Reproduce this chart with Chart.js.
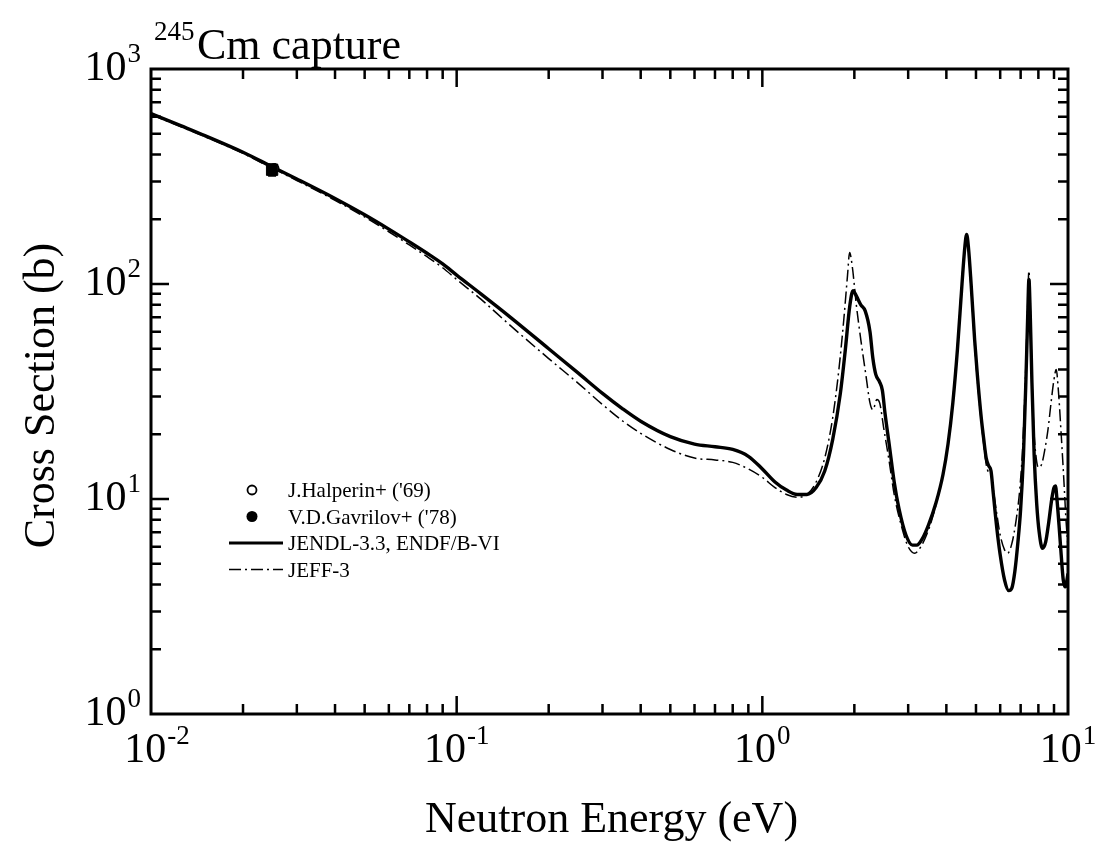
<!DOCTYPE html>
<html><head><meta charset="utf-8">
<script src="https://cdn.jsdelivr.net/npm/chart.js@4.4.0/dist/chart.umd.min.js"></script>
<style>html,body{margin:0;padding:0;background:#fff}canvas{display:block}</style>
</head><body>
<canvas id="c" width="1108" height="844" style="width:1108px;height:844px"></canvas>
<script>
// ---- data (eV, barns) ----
const energyJENDL = [0.01,0.0125,0.015,0.02,0.025,0.03,0.04,0.05,0.06,0.07,0.08,0.09,0.1,0.12,0.15,0.2,0.25,0.3,0.35,0.4,0.5,0.6,0.7,0.8,0.9,1.0,1.1,1.2,1.3,1.4,1.5,1.6,1.7,1.8,1.87,1.93,1.98,2.03,2.1,2.17,2.25,2.3,2.35,2.42,2.47,2.52,2.6,2.7,2.8,2.95,3.1,3.2,3.35,3.5,3.7,3.9,4.05,4.2,4.35,4.5,4.6,4.66,4.72,4.82,4.95,5.05,5.2,5.3,5.4,5.5,5.6,5.7,5.85,6.0,6.2,6.4,6.55,6.7,6.85,7.0,7.15,7.28,7.38,7.45,7.52,7.62,7.75,7.9,8.05,8.25,8.45,8.65,8.85,9.0,9.1,9.2,9.35,9.5,9.65,9.8,10];
const xsJENDL = [620,545,490,410,350,308,250,210,180,157,139,124,110,90,70,50,38.5,31,26.2,23,19.5,18,17.5,17,15.8,13.8,12,11,10.5,10.5,11.3,13.5,19,31,50,78,93,88,80,75,60,45,38,35,32,25,18,12,9,6.8,6.1,6.1,6.6,7.6,9.6,13,18,28,50,100,150,170,150,100,55,38,24,19,15.5,14.3,13.5,10.5,7.3,5.5,4.2,3.75,3.85,4.6,6.2,9,16,35,70,105,75,35,16,9.5,7,5.9,6.3,7.8,10,11.3,11.5,10,7.5,5.5,4.2,3.9,4.5];
const energyJEFF = [0.01,0.015,0.02,0.025,0.03,0.04,0.05,0.06,0.07,0.08,0.09,0.1,0.12,0.15,0.2,0.25,0.3,0.35,0.4,0.5,0.6,0.7,0.8,0.9,1.0,1.1,1.2,1.3,1.4,1.5,1.6,1.7,1.78,1.85,1.9,1.93,1.97,2.03,2.1,2.18,2.25,2.3,2.37,2.42,2.5,2.6,2.7,2.85,3.0,3.15,3.3,3.5,3.7,3.9,4.05,4.2,4.35,4.5,4.6,4.66,4.72,4.82,4.95,5.05,5.2,5.3,5.4,5.5,5.6,5.7,5.85,6.0,6.2,6.35,6.55,6.75,6.95,7.1,7.25,7.37,7.45,7.53,7.62,7.72,7.85,8.0,8.2,8.4,8.6,8.8,9.0,9.15,9.3,9.5,9.7,9.85,10];
const xsJEFF = [615,485,405,345,303,245,205,175,152,134,119,105,85,64,45,34.5,27.5,23,20.2,17,15.5,15.2,14.8,13.8,12.6,11.3,10.5,10.2,10.5,12,15.5,24,40,70,110,140,120,80,55,38,28,26,29,28,21,15,10.5,7.5,6.0,5.6,6.0,7.2,9.4,13,18,29,52,105,150,165,145,95,52,36,23,18,14.5,13.3,13,11,8.5,6.8,5.8,5.6,6.2,7.8,11,17,35,75,115,75,38,22,16,14,14.5,17,21,28,36,40,32,20,12,8,6];
const energyHalperin = [0.0253];
const xsHalperin = [345];
const energyGavrilov = [0.0249];
const xsGavrilov = [340];
const errGavrilov = [20];
const xTickExponents = [-2,-1,0,1];
const yTickExponents = [0,1,2,3];
const legendLabels = ["J.Halperin+ ('69)","V.D.Gavrilov+ ('78)","JENDL-3.3, ENDF/B-VI","JEFF-3"];

const pts = (xs, ys) => xs.map((x,i)=>({x:x, y:ys[i]}));
const SERIF = '"Liberation Serif","Times New Roman",serif';

const decorPlugin = {
  id:'decor',
  afterDatasetsDraw(chart){
    const {ctx, chartArea:a, scales:{x, y}} = chart;
    ctx.save();
    // error bar for Gavrilov
    ctx.strokeStyle='#000'; ctx.lineWidth=2.5;
    energyGavrilov.forEach((e,i)=>{
      const px=x.getPixelForValue(e);
      const p1=y.getPixelForValue(xsGavrilov[i]+errGavrilov[i]);
      const p2=y.getPixelForValue(xsGavrilov[i]-errGavrilov[i]);
      ctx.beginPath(); ctx.moveTo(px,p1); ctx.lineTo(px,p2);
      ctx.moveTo(px-4,p1); ctx.lineTo(px+4,p1);
      ctx.moveTo(px-4,p2); ctx.lineTo(px+4,p2); ctx.stroke();
    });
    // ticks
    ctx.lineWidth=2.5;
    ctx.beginPath();
    for(let d=-2; d<1; d++){
      for(let m=1;m<=9;m++){
        const v=m*Math.pow(10,d);
        if(d===-2 && m===1) continue;
        const px=x.getPixelForValue(v);
        const len = m===1?18:10;
        ctx.moveTo(px,a.bottom); ctx.lineTo(px,a.bottom-len);
        ctx.moveTo(px,a.top); ctx.lineTo(px,a.top+len);
      }
    }
    for(let d=0; d<3; d++){
      for(let m=1;m<=9;m++){
        const v=m*Math.pow(10,d);
        if(d===0 && m===1) continue;
        const py=y.getPixelForValue(v);
        const len = m===1?18:10;
        ctx.moveTo(a.left,py); ctx.lineTo(a.left+len,py);
        ctx.moveTo(a.right,py); ctx.lineTo(a.right-len,py);
      }
    }
    ctx.stroke();
    // frame
    ctx.lineWidth=3;
    ctx.strokeRect(a.left,a.top,a.right-a.left,a.bottom-a.top);

    ctx.fillStyle='#000';
    const powLabel=(exp, cx, baseY, align)=>{
      ctx.font='42px '+SERIF;
      const w1=ctx.measureText('10').width;
      ctx.font='27px '+SERIF;
      const sup=String(exp);
      const w2=ctx.measureText(sup).width;
      const total=w1+w2+1;
      let left = align==='center' ? cx-total/2 : cx-total;
      ctx.textAlign='left'; ctx.textBaseline='alphabetic';
      ctx.font='42px '+SERIF; ctx.fillText('10',left,baseY);
      ctx.font='27px '+SERIF; ctx.fillText(sup,left+w1+1,baseY-18);
    };
    xTickExponents.forEach(e=>{
      powLabel(e, x.getPixelForValue(Math.pow(10,e)) + (e===-2?6:0), a.bottom+48, 'center');
    });
    yTickExponents.forEach(e=>{
      powLabel(e, a.left-10, y.getPixelForValue(Math.pow(10,e))+11, 'right');
    });
    // axis titles
    ctx.font='44px '+SERIF; ctx.textAlign='center';
    ctx.fillText('Neutron Energy (eV)', (a.left+a.right)/2 + 2, 832);
    ctx.save();
    ctx.translate(54, (a.top+a.bottom)/2 + 4);
    ctx.rotate(-Math.PI/2);
    ctx.fillText('Cross Section (b)',0,0);
    ctx.restore();
    // title
    ctx.textAlign='left';
    ctx.font='27px '+SERIF; ctx.fillText('245',154,40);
    ctx.font='44px '+SERIF; ctx.fillText('Cm capture',197,59);
    // legend
    ctx.font='21px '+SERIF;
    const lx=288, ly0=497, dy=26.5;
    legendLabels.forEach((t,i)=>{ ctx.fillText(t,lx,ly0+i*dy); });
    ctx.lineWidth=1.8;
    ctx.beginPath(); ctx.arc(252,490,4.5,0,Math.PI*2); ctx.stroke();
    ctx.beginPath(); ctx.arc(252,490+dy,5.5,0,Math.PI*2); ctx.fill();
    ctx.lineWidth=3; ctx.setLineDash([]);
    ctx.beginPath(); ctx.moveTo(229,490+2*dy); ctx.lineTo(283,490+2*dy); ctx.stroke();
    ctx.lineWidth=1.5; ctx.setLineDash([12,4,2,4]);
    ctx.beginPath(); ctx.moveTo(229,490+3*dy); ctx.lineTo(283,490+3*dy); ctx.stroke();
    ctx.restore();
  }
};

new Chart(document.getElementById('c'), {
  type:'scatter',
  data:{datasets:[
    {label:legendLabels[3], order:4, data:pts(energyJEFF,xsJEFF), showLine:true, borderColor:'#000', borderWidth:1.5, borderDash:[12,4,2,4], pointRadius:0, cubicInterpolationMode:'monotone', fill:false},
    {label:legendLabels[2], order:3, data:pts(energyJENDL,xsJENDL), showLine:true, borderColor:'#000', borderWidth:3.4, pointRadius:0, cubicInterpolationMode:'monotone', fill:false},
    {label:legendLabels[0], order:2, data:pts(energyHalperin,xsHalperin), showLine:false, pointRadius:4.5, pointBackgroundColor:'#fff', pointBorderColor:'#000', pointBorderWidth:1.5},
    {label:legendLabels[1], order:1, data:pts(energyGavrilov,xsGavrilov), showLine:false, pointRadius:8, pointStyle:'rect', pointBackgroundColor:'#000', pointBorderColor:'#000'}
  ]},
  options:{
    responsive:false, animation:false, devicePixelRatio:1,
    layout:{padding:{left:151,right:40,top:69,bottom:130}},
    plugins:{legend:{display:false}, tooltip:{enabled:false}},
    scales:{
      x:{type:'logarithmic', min:0.01, max:10, ticks:{display:false}, grid:{display:false, drawTicks:false}, border:{display:false}},
      y:{type:'logarithmic', min:1, max:1000, ticks:{display:false}, grid:{display:false, drawTicks:false}, border:{display:false}}
    }
  },
  plugins:[decorPlugin]
});
</script>
</body></html>
